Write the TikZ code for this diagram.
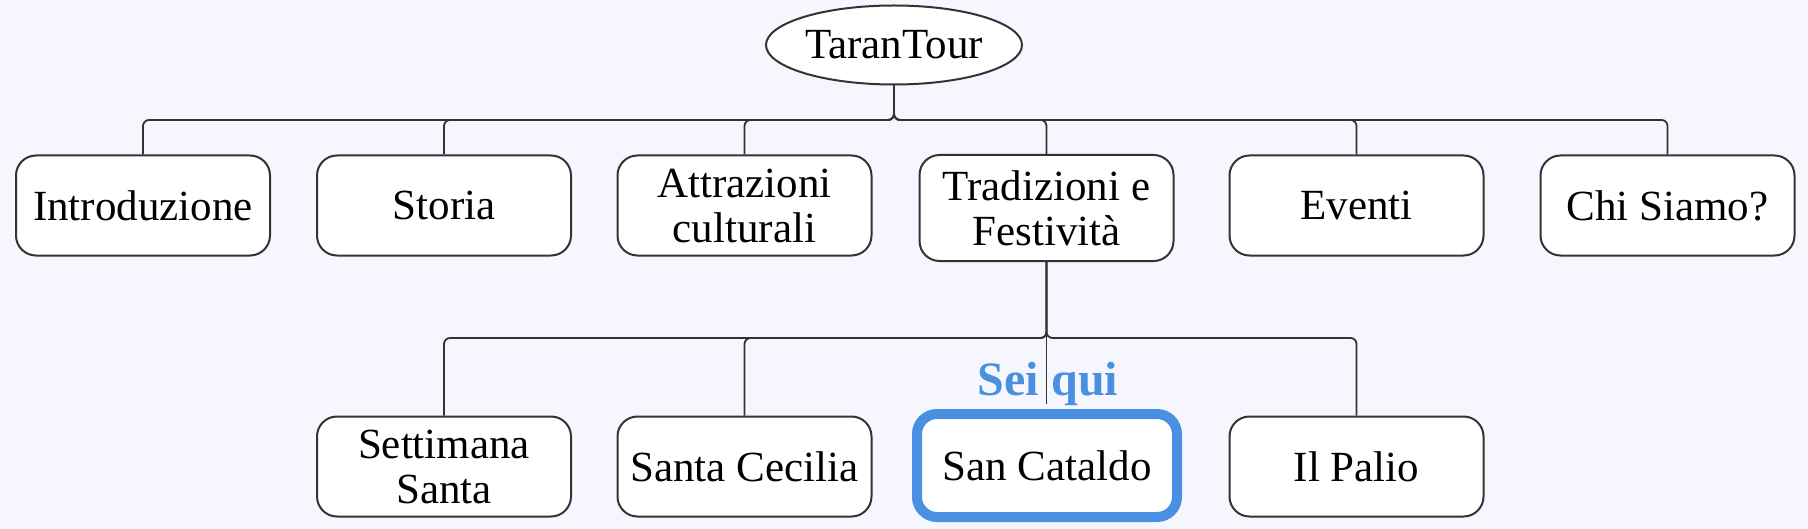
\documentclass[tikz,border=0pt]{standalone}
\usepackage{fontspec}
\setmainfont{Liberation Serif}
\usepackage{tikz}
\usetikzlibrary{
  positioning,
  shapes.geometric
}
\definecolor{bgpage}{RGB}{246,247,254}
\definecolor{lnclr}{RGB}{51,51,51}
\definecolor{herebl}{RGB}{74,144,226}

\begin{document}
\begin{tikzpicture}[
x=0.5pt, y=-0.5pt,
nd/.style={draw=lnclr, line width=1pt, rounded corners=10pt, fill=white, minimum width=127pt, minimum height=50pt, align=center, inner sep=2pt, font=\fontsize{21.5pt}{22.5pt}\selectfont},
rt/.style={draw=lnclr, line width=1pt, ellipse, fill=white, minimum width=128pt, minimum height=39.5pt, inner sep=0pt, font=\fontsize{21.5pt}{22.5pt}\selectfont},
cur/.style={nd, draw=herebl, line width=5pt, minimum width=130pt, minimum height=51.5pt},
ed/.style={draw=lnclr, line width=0.9pt, rounded corners=3pt}
]
\fill[bgpage] (0,0) rectangle (1808,529);
\useasboundingbox (0,0) rectangle (1808,529);
\node[rt] (root) at (894,45) {TaranTour};
\node[nd] (intro)  at (143,205.5)    {Introduzione};
\node[nd] (storia) at (444,205.5)    {Storia};
\node[nd] (attr)   at (744.5,205.5)  {Attrazioni\\culturali};
\node[nd, minimum height=53pt] (trad) at (1046.5,208) {Tradizioni e\\Festività};
\node[nd] (eventi) at (1356.5,205.5) {Eventi};
\node[nd] (chi)    at (1667.5,205.5) {Chi Siamo?};
\foreach \c in {intro,storia,attr,trad,eventi,chi}
  \draw[ed] (root.south) -- (root.south |- 0,120) -| (\c.north);
\node[nd]  (sett)  at (444,466.5)    {Settimana\\Santa};
\node[nd]  (cec)   at (744.5,466.5)  {Santa Cecilia};
\node[cur] (cat)   at (1047,465.5)   {San Cataldo};
\node[nd]  (palio) at (1356.5,466.5) {Il Palio};
\foreach \c in {sett,cec,palio}
  \draw[ed] (trad.south) -- (trad.south |- 0,338) -| (\c.north);
\draw[ed, shorten >=2.5pt] (trad.south) -- (trad.south |- cat.north);
\node[font=\bfseries\fontsize{24pt}{26pt}\selectfont, text=herebl, anchor=base] (qui) at (1048,395) {Sei qui};
\end{tikzpicture}
\end{document}
